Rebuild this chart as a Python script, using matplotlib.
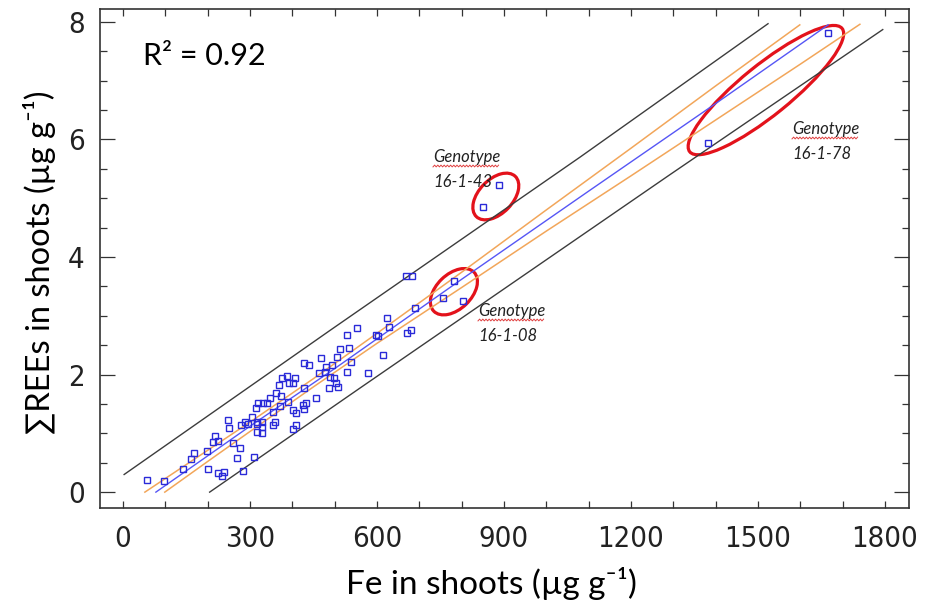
import matplotlib
matplotlib.use("Agg")
import matplotlib.pyplot as plt
import matplotlib.transforms as mtransforms
from matplotlib.patches import Ellipse
from matplotlib.lines import Line2D
from matplotlib.ticker import MultipleLocator
import numpy as np

# measured plants: Fe in shoots (x) vs sum of REEs in shoots (y)
fe = [56, 98, 141, 160, 168, 198, 201, 224, 234, 239, 213, 218, 224, 261, 276, 270,
      284, 310, 248, 250, 279, 288, 296, 304, 314, 320, 317, 328, 317, 328, 316, 328,
      355, 359, 402, 409, 332, 340, 347, 354, 371, 389, 402, 409, 426, 432, 428, 362,
      373, 456, 428, 375, 387, 406, 369, 393, 402, 489, 499, 503, 509, 487, 428, 440,
      464, 477, 481, 495, 529, 538, 580,
      690, 625, 628, 672, 680, 554, 529, 598, 603, 514, 535, 614, 505, 467,
      669, 682, 782, 757, 804, 889, 850, 1666, 1383]
ree = [0.20, 0.19, 0.39, 0.56, 0.66, 0.70, 0.39, 0.33, 0.27, 0.35, 0.86, 0.95, 0.87, 0.84, 0.75, 0.58,
       0.36, 0.60, 1.23, 1.09, 1.14, 1.20, 1.16, 1.28, 1.43, 1.51, 1.03, 1.00, 1.20, 1.19, 1.16, 1.11,
       1.14, 1.20, 1.08, 1.14, 1.52, 1.51, 1.60, 1.37, 1.46, 1.54, 1.40, 1.34, 1.48, 1.52, 1.41, 1.68,
       1.63, 1.61, 1.77, 1.95, 1.97, 1.94, 1.82, 1.86, 1.86, 1.96, 1.94, 1.85, 1.79, 1.78, 2.19, 2.16,
       2.02, 2.05, 2.13, 2.16, 2.05, 2.22, 2.03,
       3.13, 2.97, 2.81, 2.71, 2.75, 2.80, 2.67, 2.67, 2.66, 2.43, 2.45, 2.34, 2.30, 2.29,
       3.68, 3.67, 3.60, 3.30, 3.26, 5.23, 4.85, 7.82, 5.94]

# regression line, confidence band (orange) and prediction band (black)
fit_fe = [78, 300, 500, 800, 1100, 1400, 1666]
fit_ree = [0.0, 1.12, 2.10, 3.62, 5.12, 6.61, 7.95]
ci_up_fe = [52, 150, 300, 450, 600, 800, 1000, 1200, 1400, 1599]
ci_up_ree = [0.0, 0.47, 1.19, 1.93, 2.70, 3.74, 4.80, 5.85, 6.91, 7.95]
ci_lo_fe = [99, 200, 300, 450, 600, 800, 1000, 1200, 1400, 1600, 1741]
ci_lo_ree = [0.0, 0.52, 1.03, 1.79, 2.53, 3.48, 4.44, 5.38, 6.33, 7.28, 7.96]
pi_up_fe = [3, 489, 1080, 1524]
pi_up_ree = [0.30, 2.75, 5.70, 7.97]
pi_lo_fe = [205, 560, 1292, 1795]
pi_lo_ree = [0.0, 1.77, 5.40, 7.87]

# highlighted genotypes: label, ellipse centre (data)
genotypes = ["16-1-43", "16-1-08", "16-1-78"]
geno_fe = [881, 782, 1519]
geno_ree = [5.03, 3.41, 6.84]

W, H = 929, 610
fig = plt.figure(figsize=(W / 100, H / 100), dpi=100)
ax = fig.add_axes([100 / W, 1 - 508 / H, 809 / W, 499 / H])

ax.plot(pi_up_fe, pi_up_ree, color="#3c3c3c", lw=1.0)
ax.plot(pi_lo_fe, pi_lo_ree, color="#3c3c3c", lw=1.0)
ax.plot(ci_up_fe, ci_up_ree, color="#f2a65a", lw=1.1)
ax.plot(ci_lo_fe, ci_lo_ree, color="#f2a65a", lw=1.1)
ax.plot(fit_fe, fit_ree, color="#5656f5", lw=1.0)
ax.plot(fe, ree, ls="none", marker="s", ms=4, mfc="none", mec="#2a2ad8", mew=1.0)

ax.set_xlim(-54, 1857)
ax.set_ylim(-0.27, 8.22)

# ellipses drawn in pixel size around the data centre
ell_w = [56, 56, 196]
ell_h = [34, 35, 50]
ell_ang = [46, 44, 39]
for cx, cy, w, h, a in zip(geno_fe, geno_ree, ell_w, ell_h, ell_ang):
    tr = fig.dpi_scale_trans + mtransforms.ScaledTranslation(cx, cy, ax.transData)
    ax.add_patch(Ellipse((0, 0), w / 100, h / 100, angle=a, transform=tr,
                         fill=False, ec="#e3121b", lw=2.3))

# ticks
ax.xaxis.set_major_locator(MultipleLocator(300))
ax.xaxis.set_minor_locator(MultipleLocator(100))
ax.yaxis.set_major_locator(MultipleLocator(2))
ax.yaxis.set_minor_locator(MultipleLocator(0.5))
ax.tick_params(axis="x", which="both", direction="in", top=True, length=5, width=0.9,
               color="#333333", pad=12)
ax.tick_params(axis="y", which="major", direction="in", right=True, length=11, width=0.9,
               color="#333333", pad=11)
ax.tick_params(axis="y", which="minor", direction="in", right=True, length=5, width=0.9,
               color="#333333")
for lab in ax.get_xticklabels() + ax.get_yticklabels():
    lab.set_family("DejaVu Sans")
    lab.set_stretch("condensed")
    lab.set_fontsize(21)
    lab.set_color("#222222")
for s in ax.spines.values():
    s.set_color("#333333")
    s.set_linewidth(1.2)

lab_font = ["Lato", "DejaVu Sans"]
fig.text(491 / W, 1 - 583 / H, "Fe in shoots (µg g⁻¹)", ha="center", va="center",
         fontsize=24, family=lab_font)
fig.text(40 / W, 1 - 262 / H, "∑REEs in shoots (µg g⁻¹)", ha="center", va="center",
         rotation=90, fontsize=23.5, family=lab_font)
fig.text(143 / W, 1 - 65 / H, "R² = 0.92", ha="left", va="baseline", fontsize=22,
         family=lab_font)


def squiggle(x0, x1, y):
    xs = np.arange(x0, x1, 1.6)
    ys = y + np.where(np.arange(len(xs)) % 2 == 0, 0.9, -0.9)
    fig.add_artist(Line2D(xs / W, 1 - ys / H, transform=fig.transFigure,
                          color="#e04040", lw=0.7))


# genotype labels: left x, baseline of first line (pixels)
lab_x = [433, 478, 792]
lab_y = [162, 316, 134]
for name, lx, ly in zip(genotypes, lab_x, lab_y):
    fig.text(lx / W, 1 - ly / H, "Genotype", ha="left", va="baseline", fontsize=12,
             style="italic", family=lab_font, color="#222222")
    fig.text(lx / W, 1 - (ly + 25) / H, name, ha="left", va="baseline", fontsize=12,
             style="italic", family=lab_font, color="#222222")
    squiggle(lx, lx + 66, ly + 4)

fig.savefig("out.png", dpi=100)
